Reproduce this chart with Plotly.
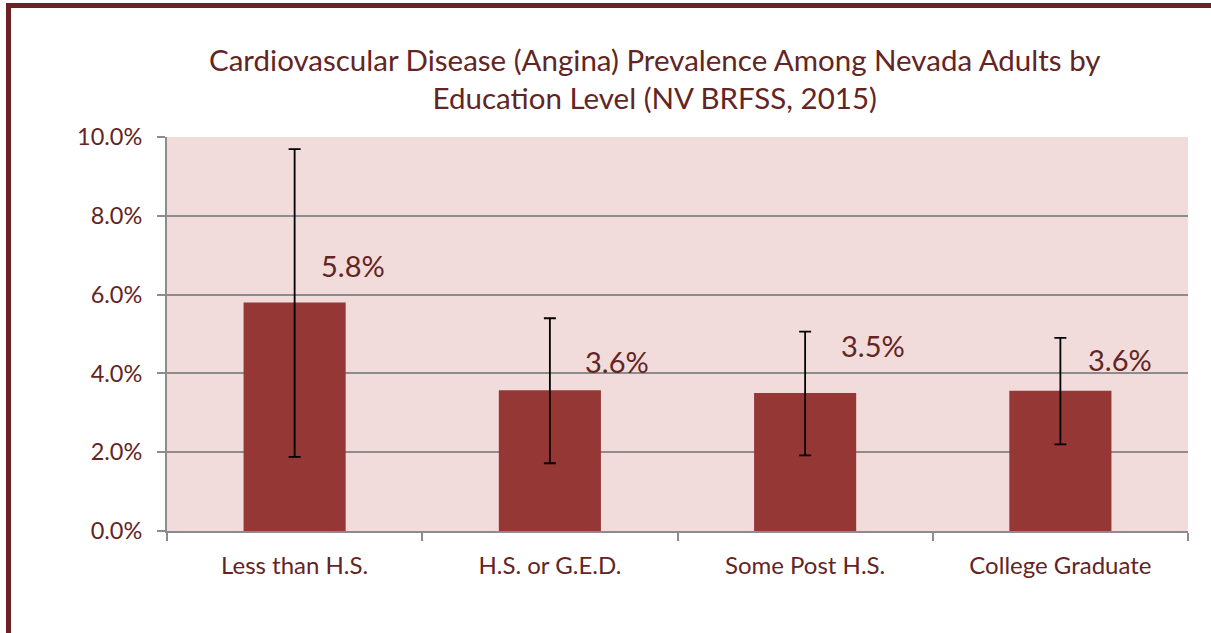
import plotly.graph_objects as go

# ---- data ----
categories = ["Less than H.S.", "H.S. or G.E.D.", "Some Post H.S.", "College Graduate"]
prevalence = [5.8, 3.57, 3.5, 3.56]
ci_upper = [9.69, 5.40, 5.06, 4.90]
ci_lower = [1.88, 1.72, 1.92, 2.20]
value_labels = ["5.8%", "3.6%", "3.5%", "3.6%"]
y_ticks = [0, 2, 4, 6, 8, 10]
title_lines = ["Cardiovascular Disease (Angina) Prevalence Among Nevada Adults by",
               "Education Level (NV BRFSS, 2015)"]

# ---- layout / style ----
W, H = 1211, 633
ML, MR, MT, MB = 167, 23, 137, 102
PW, PH = W - ML - MR, H - MT - MB
TEXT = "#632523"
FRAME = "#6B2224"
BAR = "#953735"
GRID = "#8C8C8C"
FONT = "Lato"
label_shift = [(58, 37), (67, 29), (68, 48), (60, 31)]


def px_x(p):
    return (p - ML) / PW


def px_y(p):
    return (H - MB - p) / PH


fig = go.Figure()
fig.add_trace(go.Bar(
    x=categories,
    y=prevalence,
    width=0.4,
    marker=dict(color=BAR, line=dict(width=0)),
    error_y=dict(
        type="data",
        symmetric=False,
        array=[u - v for u, v in zip(ci_upper, prevalence)],
        arrayminus=[v - l for v, l in zip(prevalence, ci_lower)],
        color="black",
        thickness=1.8,
        width=6,
    ),
    hoverinfo="skip",
))

annotations = []
for cat, val, lab, (dx, dy) in zip(categories, prevalence, value_labels, label_shift):
    annotations.append(dict(
        x=cat, y=val, xref="x", yref="y", text=lab, showarrow=False,
        xshift=dx, yshift=dy, xanchor="center", yanchor="middle",
        font=dict(family=FONT, size=29, color=TEXT),
    ))

annotations.append(dict(
    x=px_x(654), y=px_y(79), xref="paper", yref="paper",
    text="<br>".join(title_lines), showarrow=False,
    xanchor="center", yanchor="middle", align="center",
    font=dict(family=FONT, size=29.5, color=TEXT),
))

shapes = [
    # outer frame (left and top edges visible)
    dict(type="line", xref="paper", yref="paper",
         x0=px_x(8.5), x1=px_x(8.5), y0=px_y(5.5), y1=px_y(660),
         line=dict(color=FRAME, width=5)),
    dict(type="line", xref="paper", yref="paper",
         x0=px_x(6), x1=px_x(1240), y0=px_y(5.5), y1=px_y(5.5),
         line=dict(color=FRAME, width=5)),
]

fig.update_layout(
    width=W, height=H,
    margin=dict(l=ML, r=MR, t=MT, b=MB, autoexpand=False),
    paper_bgcolor="white",
    plot_bgcolor="#F2DCDB",
    showlegend=False,
    bargap=0.6,
    annotations=annotations,
    shapes=shapes,
    font=dict(family=FONT, color=TEXT),
)

fig.update_xaxes(
    type="category",
    showgrid=False,
    showline=True, linecolor=GRID, linewidth=2,
    ticks="outside", tickson="boundaries", ticklen=8, tickcolor=GRID, tickwidth=1.5,
    tickfont=dict(family=FONT, size=24, color=TEXT),
    ticklabelstandoff=12,
    fixedrange=True,
)
fig.update_yaxes(
    range=[0, 10],
    tickvals=y_ticks,
    ticktext=[f"{v:.1f}%" for v in y_ticks],
    showgrid=True, gridcolor=GRID, gridwidth=1.5,
    zeroline=False,
    showline=True, linecolor=GRID, linewidth=2,
    ticks="outside", ticklen=8, tickcolor=GRID, tickwidth=1.5,
    tickfont=dict(family=FONT, size=23.5, color=TEXT),
    ticklabelstandoff=10,
    fixedrange=True,
)

fig.write_html(
    "out.html",
    config={"displayModeBar": False},
    post_script="document.body.style.margin='0';document.body.style.overflow='hidden';",
)
